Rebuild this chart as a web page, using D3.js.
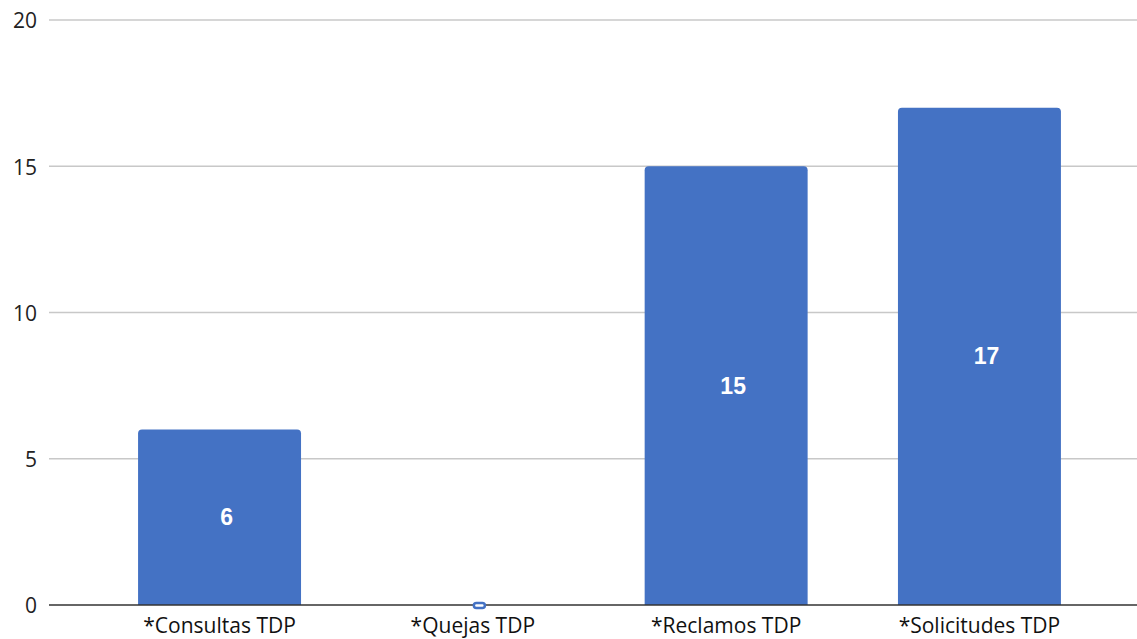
<!DOCTYPE html>
<html>
<head>
<meta charset="utf-8">
<script src="https://cdn.jsdelivr.net/npm/d3@7"></script>
<style>
  html, body { margin: 0; padding: 0; background: #fff; }
  svg { display: block; }
</style>
</head>
<body>
<svg id="chart" width="1137" height="639"></svg>
<script>
const categories = ["*Consultas TDP", "*Quejas TDP", "*Reclamos TDP", "*Solicitudes TDP"];
const values = [6, 0, 15, 17];
const yTicks = [0, 5, 10, 15, 20];

const W = 1137, H = 639;
const svg = d3.select("#chart");
const barColor = "#4472c4";

const y = d3.scaleLinear().domain([0, 20]).range([605, 20]);
const x = d3.scaleBand().domain(categories).range([92.9, 1106.1])
  .paddingInner(0.3566).paddingOuter(0.1783);

const gridLeft = 49;

// gridlines
svg.append("g").selectAll("line").data(yTicks.filter(d => d !== 0)).join("line")
  .attr("x1", gridLeft).attr("x2", W)
  .attr("y1", d => y(d)).attr("y2", d => y(d))
  .attr("stroke", "#c8c8c8").attr("stroke-width", 1.5);

// y tick labels
svg.append("g").selectAll("text").data(yTicks).join("text")
  .attr("x", 37).attr("y", d => y(d) + 1)
  .attr("dy", "0.35em")
  .attr("text-anchor", "end")
  .attr("font-family", "'Open Sans', sans-serif")
  .attr("font-size", 21)
  .attr("fill", "#222")
  .text(d => d);

// bars with rounded top corners
const r = 4;
function barPath(x0, w, yTop, yBase) {
  return `M${x0},${yBase}V${yTop + r}Q${x0},${yTop} ${x0 + r},${yTop}H${x0 + w - r}Q${x0 + w},${yTop} ${x0 + w},${yTop + r}V${yBase}Z`;
}
const data = categories.map((c, i) => ({ c, v: values[i] }));

svg.append("g").selectAll("path").data(data.filter(d => d.v > 0)).join("path")
  .attr("d", d => barPath(x(d.c), x.bandwidth(), y(d.v), y(0)))
  .attr("fill", barColor);

// baseline
svg.append("line")
  .attr("x1", gridLeft).attr("x2", W)
  .attr("y1", y(0)).attr("y2", y(0))
  .attr("stroke", "#333").attr("stroke-width", 1.5);

// zero-value marker
svg.append("g").selectAll("rect").data(data.filter(d => d.v === 0)).join("rect")
  .attr("x", d => x(d.c) + x.bandwidth() / 2 + 6.5 - 5.5)
  .attr("y", y(0) - 2)
  .attr("width", 11).attr("height", 5)
  .attr("rx", 2.5)
  .attr("fill", "#fff").attr("stroke", barColor).attr("stroke-width", 2.5);

// value labels
svg.append("g").selectAll("text").data(data.filter(d => d.v > 0)).join("text")
  .attr("x", d => x(d.c) + x.bandwidth() / 2 + 7)
  .attr("y", d => (y(d.v) + y(0)) / 2)
  .attr("dy", "0.35em")
  .attr("text-anchor", "middle")
  .attr("font-family", "'Liberation Sans', Arial, sans-serif")
  .attr("font-weight", "bold")
  .attr("font-size", 23)
  .attr("fill", "#fff")
  .text(d => d.v);

// category labels
svg.append("g").selectAll("text").data(categories).join("text")
  .attr("x", d => x(d) + x.bandwidth() / 2)
  .attr("y", 633)
  .attr("text-anchor", "middle")
  .attr("font-family", "'Open Sans', sans-serif")
  .attr("font-size", 21)
  .attr("fill", "#111")
  .text(d => d);
</script>
</body>
</html>
